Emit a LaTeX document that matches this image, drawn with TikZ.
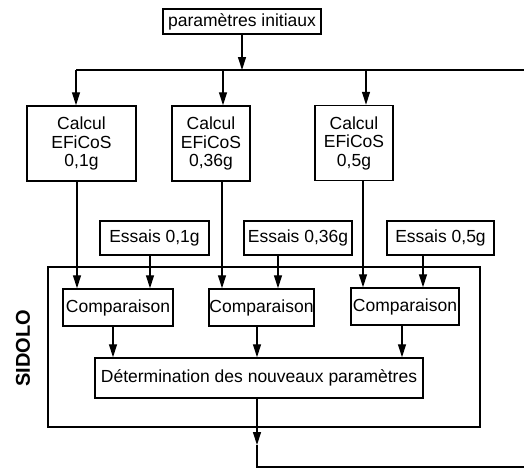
\documentclass[tikz,border=0pt]{standalone}
\usepackage{fontspec}
\setmainfont{Liberation Sans}
\usetikzlibrary{arrows.meta}
\tikzset{
  box/.style={draw, line width=1.5pt, inner sep=0pt, align=center,
    font=\fontsize{17.5}{18.5}\selectfont},
  arr/.style={line width=1.3pt, -{Triangle[length=13pt,width=8pt]}},
  ln/.style={line width=1.3pt},
  frame/.style={draw, line width=2.4pt},
}
\begin{document}
\begin{tikzpicture}[x=1pt,y=-1pt]
\useasboundingbox (0,0) rectangle (524,469);
% nodes
\node[box, minimum width=158, minimum height=25] (P) at (242,21.5) {paramètres initiaux};
\node[box, minimum width=109, minimum height=75] (C1) at (81.5,143.5) {Calcul\\EFiCoS\\0,1g};
\node[box, minimum width=78, minimum height=75] (C2) at (211,143.5) {Calcul\\EFiCoS\\0,36g};
\node[box, minimum width=78, minimum height=75] (C3) at (354,143) {Calcul\\EFiCoS\\0,5g};
\node[box, minimum width=109, minimum height=34] (E1) at (154.5,238) {Essais 0,1g};
\node[box, minimum width=108, minimum height=34] (E2) at (298,238) {Essais 0,36g};
\node[box, minimum width=107, minimum height=34] (E3) at (440.5,238) {Essais 0,5g};
\node[frame, minimum width=432, minimum height=160, inner sep=0pt] (S) at (264,347) {};
\node[box, minimum width=110, minimum height=37] (K1) at (118,307.5) {Comparaison};
\node[box, minimum width=105, minimum height=37] (K2) at (261.5,307.5) {Comparaison};
\node[box, minimum width=108, minimum height=37] (K3) at (405,306.5) {Comparaison};
\node[box, minimum width=328, minimum height=40] (D) at (259,378) {Détermination des nouveaux paramètres};
\node[rotate=90, font=\fontsize{20}{22}\bfseries\selectfont] (SL) at (23,348) {SIDOLO};
% coordinates for free ends
\coordinate (busL) at (76,70);
\coordinate (busR) at (524,70);
\coordinate (outA) at (257,445);
\coordinate (outB) at (257,467);
\coordinate (outC) at (524,467);
% connectors
\draw[arr] (P.south) -- (P.south |- busL);
\draw[ln] (busL) -- (busR);
\draw[arr] (busL) -- (busL |- C1.north);
\draw[arr] ([xshift=12]C2.north |- busL) -- ([xshift=12]C2.north);
\draw[arr] ([xshift=12]C3.north |- busL) -- ([xshift=12]C3.north);
\draw[arr] ([xshift=-4.5]C1.south) -- ([xshift=-4.5]C1.south |- K1.north);
\draw[arr] ([xshift=11]C2.south) -- ([xshift=11]C2.south |- K2.north);
\draw[arr] ([xshift=9]C3.south) -- ([xshift=9]C3.south |- K3.north);
\draw[arr] ([xshift=-4.5]E1.south) -- ([xshift=-4.5]E1.south |- K1.north);
\draw[arr] ([xshift=-20]E2.south) -- ([xshift=-20]E2.south |- K2.north);
\draw[arr] ([xshift=-17.5]E3.south) -- ([xshift=-17.5]E3.south |- K3.north);
\draw[arr] ([xshift=-5]K1.south) -- ([xshift=-5]K1.south |- D.north);
\draw[arr] ([xshift=-4.5]K2.south) -- ([xshift=-4.5]K2.south |- D.north);
\draw[arr] ([xshift=-3]K3.south) -- ([xshift=-3]K3.south |- D.north);
\draw[arr] (D.south -| outA) -- (outA);
\draw[ln] (outA) -- (outB) -- (outC);
\end{tikzpicture}
\end{document}
